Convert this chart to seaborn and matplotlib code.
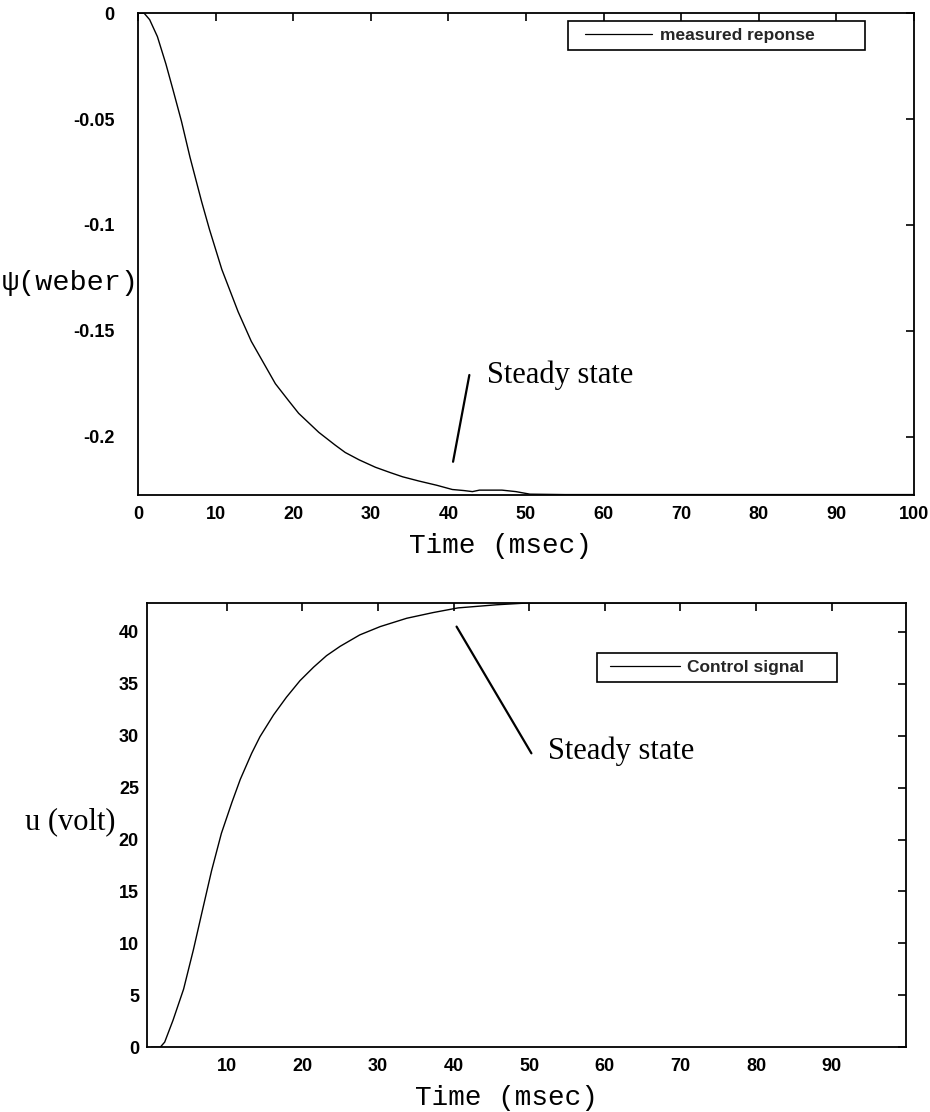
import matplotlib
matplotlib.use("Agg")
import matplotlib.pyplot as plt
import seaborn as sns
import pandas as pd
from matplotlib.lines import Line2D
from matplotlib.legend_handler import HandlerLine2D

# ---------------- data ----------------
time_top = [0, 0.8, 1.5, 2.5, 3.6, 4.5, 5.6, 6.7, 8.2, 9.2, 10.8, 12.9, 14.6,
            17.7, 19.4, 20.7, 23.3, 25.4, 26.7, 28.5, 30.6, 32.5, 34.1, 36.2,
            38.5, 40.5, 42.0, 43.1, 44.0, 46.9, 48.7, 50.5, 55, 60, 70, 80, 90, 100]
psi_weber = [0, 0, -0.003, -0.011, -0.024, -0.036, -0.051, -0.068, -0.089,
             -0.102, -0.121, -0.141, -0.155, -0.175, -0.183, -0.189, -0.198,
             -0.204, -0.2075, -0.211, -0.2145, -0.217, -0.219, -0.221, -0.223,
             -0.225, -0.2255, -0.226, -0.2253, -0.2253, -0.226, -0.2272,
             -0.2274, -0.2274, -0.2274, -0.2274, -0.2274, -0.2274]

time_bot = [0, 1.2, 1.8, 2.9, 4.3, 5.6, 6.7, 8.0, 9.3, 10.7, 11.8, 13.3, 14.4,
            16.2, 17.9, 19.7, 21.5, 23.2, 25.0, 27.6, 30.3, 33.8, 37.3, 40.6,
            45.7, 49.7, 53, 60, 70, 80, 90, 99.8]
u_volt = [0, 0, 0.5, 2.6, 5.6, 9.4, 12.9, 17.0, 20.6, 23.6, 25.8, 28.3, 29.9,
          32.0, 33.7, 35.3, 36.6, 37.7, 38.6, 39.7, 40.5, 41.3, 41.85, 42.3,
          42.6, 42.77, 42.8, 42.8, 42.8, 42.8, 42.8, 42.8]

top_xticks = [0, 10, 20, 30, 40, 50, 60, 70, 80, 90, 100]
top_yticks = [0, -0.05, -0.1, -0.15, -0.2]
top_yticklabels = ["0", "-0.05", "-0.1", "-0.15", "-0.2"]
bot_xticks = [10, 20, 30, 40, 50, 60, 70, 80, 90]
bot_yticks = [0, 5, 10, 15, 20, 25, 30, 35, 40]

# annotation pointer lines (data coords)
steady_top_t = [42.7, 40.6]
steady_top_psi = [-0.1709, -0.2119]
steady_top_text = (45.0, -0.1748)
steady_bot_t = [40.4, 50.3]
steady_bot_u = [40.5, 28.3]
steady_bot_text = (52.5, 27.8)

# ---------------- style ----------------
sns.set_theme(style="white")
plt.rcParams.update({
    "font.family": ["Liberation Sans", "DejaVu Sans"],
    "axes.unicode_minus": False,
    "axes.edgecolor": "black",
    "axes.linewidth": 1.3,
    "xtick.direction": "in",
    "ytick.direction": "in",
})

W, H = 930, 1112
fig = plt.figure(figsize=(W / 100, H / 100), dpi=100)


def px_axes(l, r, t, b):
    return fig.add_axes([l / W, 1 - b / H, (r - l) / W, (b - t) / H])


ax1 = px_axes(138, 914, 13.3, 495)
ax2 = px_axes(147.3, 905.7, 602.7, 1047.3)

df_top = pd.DataFrame({"t": time_top, "psi": psi_weber})
df_bot = pd.DataFrame({"t": time_bot, "u": u_volt})

sns.lineplot(data=df_top, x="t", y="psi", ax=ax1, color="black", lw=1.0,
             estimator=None, sort=False, label="measured reponse")
sns.lineplot(data=df_bot, x="t", y="u", ax=ax2, color="black", lw=1.0,
             estimator=None, sort=False, label="Control signal")

tick_font = dict(family="Liberation Sans", size=13, weight="bold")

# top axes
ax1.set_xlim(0, 100)
ax1.set_ylim(-0.2276, 0)
ax1.set_xticks(top_xticks)
ax1.set_xticklabels([str(v) for v in top_xticks], fontdict=tick_font)
ax1.set_yticks(top_yticks)
ax1.set_yticklabels(top_yticklabels, fontdict=tick_font)
ax1.tick_params(axis="both", which="both", direction="in", top=True, right=True,
                length=6, width=1.2, color="black", labelcolor="black")
ax1.tick_params(axis="y", pad=17)
ax1.tick_params(axis="x", pad=8)
ax1.set_xlabel("Time (msec)", family="Liberation Mono", size=20, color="black")
ax1.xaxis.set_label_coords((500.5 - 138) / 776, -38 / 481.7)
ax1.set_ylabel("")

# bottom axes
ax2.set_xlim(-0.5, 99.8)
ax2.set_ylim(0, 42.8)
ax2.set_xticks(bot_xticks)
ax2.set_xticklabels([str(v) for v in bot_xticks], fontdict=tick_font)
ax2.set_yticks(bot_yticks)
ax2.set_yticklabels([str(v) for v in bot_yticks], fontdict=tick_font)
ax2.tick_params(axis="both", which="both", direction="in", top=True, right=True,
                length=6, width=1.2, color="black", labelcolor="black")
ax2.tick_params(axis="y", pad=6)
ax2.tick_params(axis="x", pad=8)
ax2.set_xlabel("Time (msec)", family="Liberation Mono", size=20, color="black")
ax2.xaxis.set_label_coords((506 - 147.3) / 758.4, -38 / 444.6)
ax2.set_ylabel("")

for ax in (ax1, ax2):
    for s in ax.spines.values():
        s.set_color("black")
        s.set_linewidth(1.3)

# y labels
fig.text(2 / W, 1 - 283 / H, "ψ(weber)", family="Liberation Mono", size=20.5,
         ha="left", va="center", color="black")
fig.text(70 / W, 1 - 822 / H, "u (volt)", family="Liberation Serif", size=22,
         ha="center", va="center", color="black")

# annotations
ax1.plot(steady_top_t, steady_top_psi, color="black", lw=1.6)
ax1.text(*steady_top_text, "Steady state", family="Liberation Serif", size=22,
         va="baseline", ha="left", color="black")
ax2.plot(steady_bot_t, steady_bot_u, color="black", lw=1.6)
ax2.text(*steady_bot_text, "Steady state", family="Liberation Serif", size=22,
         va="baseline", ha="left", color="black")

# legends
leg_font = dict(family="Liberation Sans", size=12.5, weight="bold")
h1, l1 = ax1.get_legend_handles_labels()
leg1 = ax1.legend(h1[:1], l1[:1], loc="upper left",
                  bbox_to_anchor=(568 / W, 1 - 53 / H, 297 / W, 32 / H),
                  bbox_transform=fig.transFigure, mode="expand", borderaxespad=0,
                  frameon=True, fancybox=False, framealpha=1, edgecolor="black",
                  prop=leg_font, borderpad=0.4, handlelength=4.43,
                  handletextpad=0.46,
                  handler_map={Line2D: HandlerLine2D(xpad=0.57)})
leg1.get_frame().set_linewidth(1.2)
for ln in leg1.get_lines():
    ln.set_linewidth(0.9)

h2, l2 = ax2.get_legend_handles_labels()
leg2 = ax2.legend(h2[:1], l2[:1], loc="upper left",
                  bbox_to_anchor=(597 / W, 1 - 687 / H, 240 / W, 34 / H),
                  bbox_transform=fig.transFigure, mode="expand", borderaxespad=0,
                  frameon=True, fancybox=False, framealpha=1, edgecolor="black",
                  prop=leg_font, borderpad=0.4, handlelength=4.37,
                  handletextpad=0.39,
                  handler_map={Line2D: HandlerLine2D(xpad=0.34)})
leg2.get_frame().set_linewidth(1.2)
for ln in leg2.get_lines():
    ln.set_linewidth(0.9)

fig.savefig("out.png", dpi=100, facecolor="white")
